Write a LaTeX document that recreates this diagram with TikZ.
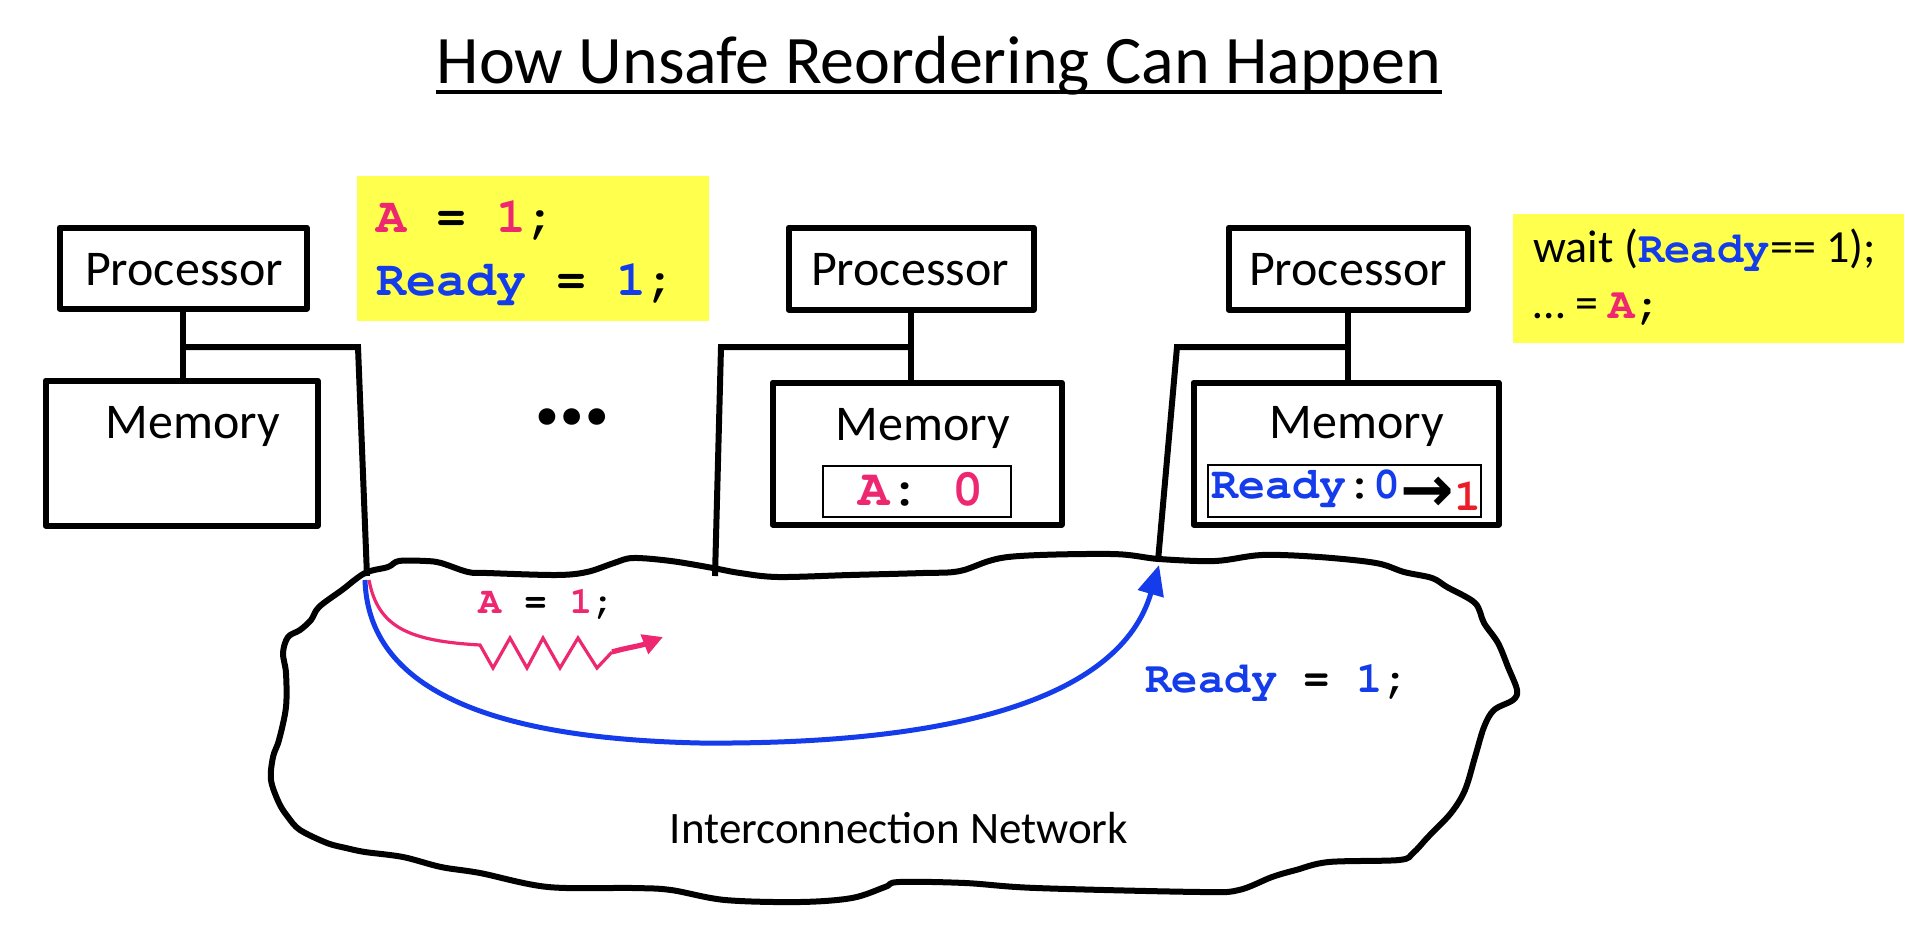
\documentclass[tikz,border=0pt]{standalone}
\usepackage[T1]{fontenc}
\usepackage{fontspec}
\setmainfont{Carlito}
\newfontfamily\arrowfont{DejaVu Sans}
\usetikzlibrary{arrows.meta,calc}
\definecolor{pinkc}{RGB}{238,40,112}
\definecolor{bluec}{RGB}{20,60,235}
\definecolor{redc}{RGB}{235,30,40}
\definecolor{yell}{RGB}{255,255,77}
\newcommand{\cdf}[2]{{\fontencoding{T1}\fontfamily{pcr}\fontseries{b}\fontshape{n}\fontsize{#1}{#1}\selectfont #2}}
\newcommand{\pk}[1]{\textcolor{pinkc}{#1}}
\newcommand{\bl}[1]{\textcolor{bluec}{#1}}
\begin{document}
\begin{tikzpicture}[x=0.5pt,y=-0.5pt,
  box/.style={draw, line width=3pt, line join=round, inner sep=0pt, rectangle},
  inbox/.style={draw, line width=1pt, inner sep=0pt, rectangle},
  wire/.style={line width=3pt, line join=miter},
  lbl/.style={inner sep=0pt, anchor=base, font=\fontsize{25}{30}\selectfont},
  codetxt/.style={inner sep=0pt, anchor=base west},
  yellowbox/.style={fill=yell, draw=none, inner sep=0pt},
  cloudline/.style={line width=3pt, line join=round},
  bluearrow/.style={draw=bluec, line width=2.5pt, -{Triangle[length=15pt,width=13pt]}},
  pinkline/.style={draw=pinkc, line width=1.6pt, line join=miter},
  pinkarrow/.style={draw=pinkc, line width=2.6pt, -{Triangle[length=10pt,width=10pt]}}
]
\useasboundingbox (0,0) rectangle (1916,942);

% title
\node[inner sep=0pt, anchor=base, font=\fontsize{34}{40}\selectfont] (title) at (939,83) {How Unsafe Reordering Can Happen};
\draw[line width=1.6pt] ($(title.base west)+(0,9)$) -- ($(title.base east)+(0,9)$);

% yellow code boxes
\node[yellowbox, minimum width=176pt, minimum height=72.5pt] (y1) at (533,248.5) {};
\node[codetxt] (c1a) at (376,232) {\cdf{25}{\pk{A} = \pk{1};}};
\node[codetxt] (c1b) at (376,295) {\cdf{25}{\bl{Ready} = \bl{1};}};

\node[yellowbox, minimum width=195.5pt, minimum height=64.5pt] (y2) at (1708.5,278.5) {};
\node[codetxt, font=\fontsize{23}{28}\selectfont] (c2a) at (1533,262) {wait (\cdf{22}{\bl{Ready}}== 1);};
\node[codetxt, font=\fontsize{23}{28}\selectfont] (c2b) at (1533,318) {\ldots{} = \cdf{22}{\pk{A};}};

% processors and memories
\node[box, minimum width=123.5pt, minimum height=40.5pt] (p1) at (183,268) {};
\node[box, minimum width=136pt, minimum height=72.5pt] (m1) at (181.5,453) {};
\node[box, minimum width=122.5pt, minimum height=41pt] (p2) at (911,268.5) {};
\node[box, minimum width=144.5pt, minimum height=71pt] (m2) at (917,453.5) {};
\node[inbox, minimum width=94pt, minimum height=25.5pt] (i2) at (917,491.5) {};
\node[box, minimum width=119.5pt, minimum height=41pt] (p3) at (1348,268.5) {};
\node[box, minimum width=152.5pt, minimum height=71pt] (m3) at (1346,453.5) {};
\node[inbox, minimum width=136.5pt, minimum height=26pt] (i3) at (1344.5,491) {};

\node[lbl] (pt1) at (184,285) {Processor};
\node[lbl] (pt2) at (910,285) {Processor};
\node[lbl] (pt3) at (1348,285) {Processor};
\node[lbl] (mt1) at (193,438) {Memory};
\node[lbl] (mt2) at (923,440) {Memory};
\node[lbl] (mt3) at (1357,438) {Memory};

\node[inner sep=0pt, anchor=base] (v2) at (921,505) {\cdf{26}{\pk{A}: \pk{0}}};
\node[inner sep=0pt, anchor=base west] (v3) at (1211,498) {\cdf{22.5}{\bl{Ready}:\bl{0}}{\arrowfont\bfseries\fontsize{32}{32}\selectfont\raisebox{-6.5pt}{→}}\raisebox{-6pt}{\cdf{22.5}{\textcolor{redc}{1}}}};

% dots
\node[inner sep=0pt, anchor=base, font=\bfseries\fontsize{56}{60}\selectfont] (dots) at (572,424) {\ldots};

% wires
\draw[wire] (p1.south) -- (p1.south |- m1.north);
\draw[wire] (p2.south) -- (p2.south |- m2.north);
\draw[wire] (p3.south) -- (p3.south |- m3.north);
\coordinate (b1) at (183,347);
\coordinate (b2) at (911,347);
\coordinate (b3) at (1348,347);
\coordinate (n1) at (367,576);
\coordinate (n2) at (715,576);
\coordinate (n3) at (1158,561);
\draw[wire] (b1) -- (358,347) -- (n1);
\draw[wire] (b2) -- (721,347) -- (n2);
\draw[wire] (b3) -- (1177,347) -- (n3);

% cloud
\draw[cloudline] plot[smooth cycle, tension=0.55] coordinates {
(365,573) (388,567) (399,561) (426,561) (441,563) (468,572) (487,573) (556,575)
(587,572) (614,563) (633,558) (671,561) (713,568) (740,573) (778,577) (850,575)
(923,573) (960,571) (1008,557) (1111,554) (1159,559) (1215,561) (1262,555) (1319,557)
(1376,563) (1404,572) (1432,578) (1447,587) (1475,603) (1484,623) (1498,643) (1508,667)
(1517,690) (1513,700) (1494,710) (1484,727) (1475,757) (1465,790) (1451,813) (1428,837)
(1413,853) (1399,860) (1329,862) (1296,870) (1272,877) (1239,890) (1201,892) (1036,888)
(965,883) (899,882) (885,887) (852,898) (800,902) (725,900) (671,890) (633,888)
(548,887) (480,873) (441,867) (403,857) (365,852) (346,848) (327,843) (300,830)
(288,817) (279,803) (271,780) (273,757) (279,740) (286,707) (286,673) (283,653)
(288,637) (300,630) (311,620) (319,607) (342,590)};

\node[inner sep=0pt, anchor=base, font=\fontsize{22.5}{27}\selectfont] (net) at (899,843) {Interconnection Network};

% messages
\coordinate (bs) at (365,580);
\coordinate (bt) at (1159,565);
\draw[bluearrow] (bs) .. controls (368,680) and (470,738) .. (700,743) .. controls (950,745) and (1120,700) .. (bt);

\coordinate (ps) at (369,580);
\coordinate (pz) at (663,637);
\draw[pinkline] (ps) .. controls (378,628) and (410,641) .. (480,645) -- (493,668) -- (510,638) -- (527,668) -- (543,638) -- (560,668) -- (578,638) -- (597,668) -- (612,652);
\draw[pinkarrow] (612,652) .. controls (625,648) and (640,646) .. (pz);

\node[codetxt] (l1) at (478,613) {\cdf{19}{\pk{A} = \pk{1};}};
\node[codetxt] (l2) at (1145,692) {\cdf{22}{\bl{Ready} = \bl{1};}};
\end{tikzpicture}
\end{document}
